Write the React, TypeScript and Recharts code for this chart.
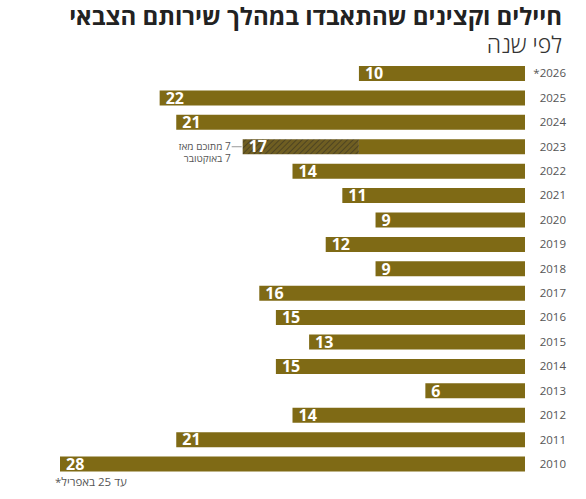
import React from "react";
import { BarChart, Bar, XAxis, YAxis, LabelList } from "recharts";

const GOLD = "#7f6a15";
const HATCH_BASE = "#6f5e22";
const HATCH_LINE = "#4e4422";
const TEXT = "#222";
const MUTED = "#555";
const FONT = "'Open Sans', 'DejaVu Sans', sans-serif";

const YEARS = ["2026*", "2025", "2024", "2023", "2022", "2021", "2020", "2019", "2018", "2017", "2016", "2015", "2014", "2013", "2012", "2011", "2010"];
const TOTALS = [10, 22, 21, 17, 14, 11, 9, 12, 9, 16, 15, 13, 15, 6, 14, 21, 28];
const SINCE_OCT7 = [0, 0, 0, 7, 0, 0, 0, 0, 0, 0, 0, 0, 0, 0, 0, 0, 0];

const NOTE_LINES = ["7 מתוכם מאז", "7 באוקטובר"];

const data = YEARS.map((year, i) => ({
  year,
  total: TOTALS[i],
  base: TOTALS[i] - SINCE_OCT7[i],
  since: SINCE_OCT7[i],
}));

// label sits on the solid part; hatched part extends it to the left
function ValueLabel(props: any) {
  const { x, y, width, height, index } = props;
  const row = data[index];
  if (!row) return null;
  const perUnit = Math.abs(width) / row.base;
  const left = Math.min(x, x + width) - row.since * perUnit;
  const cy = y + height / 2;
  return (
    <g>
      <text x={left + 6} y={cy} dy="0.36em" fill="#fff" fontSize={16} fontWeight={700} fontFamily={FONT}>
        {row.total}
      </text>
      {row.since > 0 && (
        <g>
          <line x1={left - 11} x2={left - 1} y1={cy} y2={cy} stroke="#999" strokeWidth={1} />
          {NOTE_LINES.map((t, k) => (
            <text key={k} x={left - 12} y={cy + 3 + k * 12.5} direction="rtl" textAnchor="start" fill={MUTED} fontSize={10} fontFamily={FONT}>
              {t}
            </text>
          ))}
        </g>
      )}
    </g>
  );
}

function YearTick(props: any) {
  const { x, y, payload } = props;
  return (
    <text x={x + 33} y={y} dy="0.36em" direction="rtl" textAnchor="start" fill={MUTED} fontSize={11.5} fontFamily={FONT}>
      {payload.value}
    </text>
  );
}

export default function App() {
  return (
    <div style={{ position: "absolute", left: 0, top: 0, width: 586, height: 499, background: "#fff", fontFamily: FONT }}>
      <div dir="rtl" style={{ position: "absolute", right: 24, top: 2, fontSize: 24, fontWeight: 700, color: TEXT, whiteSpace: "nowrap", lineHeight: "28px" }}>
        חיילים וקצינים שהתאבדו במהלך שירותם הצבאי
      </div>
      <div dir="rtl" style={{ position: "absolute", right: 24, top: 30, fontSize: 23, fontWeight: 300, color: "#333", whiteSpace: "nowrap", lineHeight: "28px" }}>
        לפי שנה
      </div>
      <BarChart
        width={586}
        height={499}
        data={data}
        layout="vertical"
        barSize={15}
        margin={{ top: 61, right: 21, bottom: 23, left: 60 }}
      >
        <defs>
          <pattern id="hatch" patternUnits="userSpaceOnUse" width={4} height={4} patternTransform="rotate(45)">
            <rect width={4} height={4} fill={HATCH_BASE} />
            <line x1={0} y1={0} x2={0} y2={4} stroke={HATCH_LINE} strokeWidth={2} />
          </pattern>
        </defs>
        <XAxis type="number" domain={[0, 28]} reversed hide />
        <YAxis
          type="category"
          dataKey="year"
          orientation="right"
          width={40}
          axisLine={false}
          tickLine={false}
          tick={<YearTick />}
          interval={0}
        />
        <Bar dataKey="base" stackId="a" fill={GOLD} isAnimationActive={false}>
          <LabelList dataKey="total" content={<ValueLabel />} />
        </Bar>
        <Bar dataKey="since" stackId="a" fill="url(#hatch)" isAnimationActive={false} />
      </BarChart>
      <div dir="rtl" style={{ position: "absolute", left: 55, top: 474, fontSize: 11.5, color: MUTED, whiteSpace: "nowrap" }}>
        עד 25 באפריל*
      </div>
    </div>
  );
}
